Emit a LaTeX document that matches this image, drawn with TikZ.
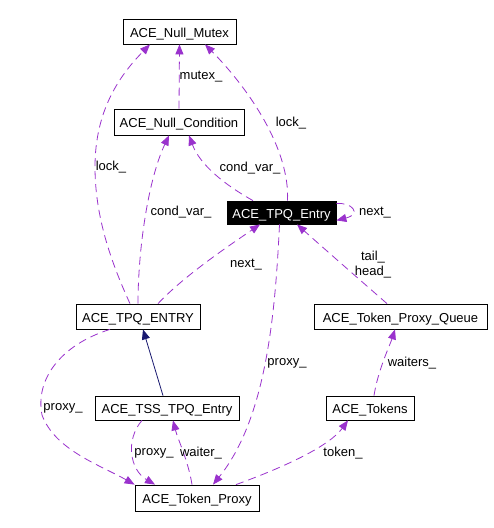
\documentclass[tikz,border=0pt]{standalone}
\usepackage{fontspec}
\setmainfont{Liberation Sans}
\usetikzlibrary{arrows.meta}
\definecolor{edgepurple}{HTML}{9A32CD}
\definecolor{inhblue}{HTML}{191970}
\tikzset{
  cls/.style={draw=black, line width=0.8pt, fill=white, inner sep=0pt, text height=11pt, text depth=0pt, font=\fontsize{13}{15}\selectfont, text=black},
  clsmain/.style={cls, fill=black, text=white},
  use/.style={draw=edgepurple, line width=0.8pt, dash pattern=on 8pt off 5pt, -{Triangle[length=10pt,width=8pt,fill=edgepurple]}},
  inh/.style={draw=inhblue, line width=0.8pt, -{Triangle[length=10pt,width=8pt,fill=inhblue]}},
  lbl/.style={inner sep=0pt, font=\fontsize{13}{15}\selectfont, align=center}
}
\begin{document}
\begin{tikzpicture}[x=1pt,y=-1pt]
\useasboundingbox[fill=white] (0,0) rectangle (494,528);
% classes
\node[cls, minimum width=113pt, minimum height=25pt] (nm) at (179.5,31.5) {ACE\_Null\_Mutex};
\node[cls, minimum width=130pt, minimum height=26pt] (nc) at (179,122) {ACE\_Null\_Condition};
\node[clsmain, minimum width=109pt, minimum height=23pt] (te) at (281.5,212.5) {ACE\_TPQ\_Entry};
\node[cls, minimum width=124pt, minimum height=25pt] (tE) at (138,316.5) {ACE\_TPQ\_ENTRY};
\node[cls, minimum width=173pt, minimum height=25pt] (tq) at (400.5,316.5) {ACE\_Token\_Proxy\_Queue};
\node[cls, minimum width=144pt, minimum height=24pt] (ts) at (167,408) {ACE\_TSS\_TPQ\_Entry};
\node[cls, minimum width=88pt, minimum height=24pt] (tk) at (370,408) {ACE\_Tokens};
\node[cls, minimum width=124pt, minimum height=26pt] (tp) at (197,498) {ACE\_Token\_Proxy};
% edges
\draw[use] (nc.north) -- (nm.south);
\draw[use] ([xshift=-8pt]tE.north) .. controls (110,260) and (95,215) .. (95,167) .. controls (95,110) and (120,75) .. ([xshift=-29.5pt]nm.south);
\draw[use] (tE.north) .. controls (138,250) and (148,180) .. ([xshift=-10pt]nc.south);
\draw[use] ([xshift=20pt]tE.north) .. controls (185,275) and (230,245) .. ([xshift=-21.5pt]te.south);
\draw[use] ([xshift=6pt]te.north) .. controls (290,150) and (250,90) .. ([xshift=25.5pt]nm.south);
\draw[use] ([xshift=-28.5pt]te.north) .. controls (225,185) and (200,165) .. ([xshift=10pt]nc.south);
\draw[use] ([yshift=-3pt]te.north east) .. controls (352,202) and (362,214) .. ([yshift=4pt]te.south east);
\draw[use] ([xshift=-2pt]te.south) .. controls (275,320) and (265,420) .. ([xshift=16pt]tp.north);
\draw[use] ([xshift=-13.5pt]tq.north) .. controls (360,280) and (320,245) .. ([xshift=15.5pt]te.south);
\draw[use] ([xshift=4pt]tk.north) .. controls (378,370) and (390,345) .. ([xshift=-5.5pt]tq.south);
\draw[use] ([xshift=39pt]tp.north) .. controls (290,465) and (330,445) .. ([xshift=-22pt]tk.south);
\draw[use] ([xshift=-5pt]tp.north) .. controls (188,460) and (178,440) .. ([xshift=6pt]ts.south);
\draw[use] ([xshift=-25pt]ts.south) .. controls (125,440) and (130,470) .. ([xshift=-42pt]tp.north);
\draw[use] ([xshift=-28pt]tE.south) .. controls (60,345) and (35,380) .. (42,415) .. controls (55,450) and (100,465) .. (tp.north west);
\draw[inh] ([xshift=-4pt]ts.north) -- ([xshift=5pt]tE.south);
% labels
\node[lbl] (l1) at (201,77) {mutex\_};
\node[lbl] (l2) at (111,167) {lock\_};
\node[lbl] (l3) at (181,212) {cond\_var\_};
\node[lbl] (l4) at (246,265) {next\_};
\node[lbl] (l5) at (291,123) {lock\_};
\node[lbl] (l6) at (250,168) {cond\_var\_};
\node[lbl] (l7) at (375,213) {next\_};
\node[lbl] (l8) at (287,363) {proxy\_};
\node[lbl] (l9) at (373,265) {tail\_\\head\_};
\node[lbl] (l10) at (412,363) {waiters\_};
\node[lbl] (l11) at (343,453) {token\_};
\node[lbl] (l12) at (201,453) {waiter\_};
\node[lbl] (l13) at (154,453) {proxy\_};
\node[lbl] (l14) at (63,408) {proxy\_};
\end{tikzpicture}
\end{document}
